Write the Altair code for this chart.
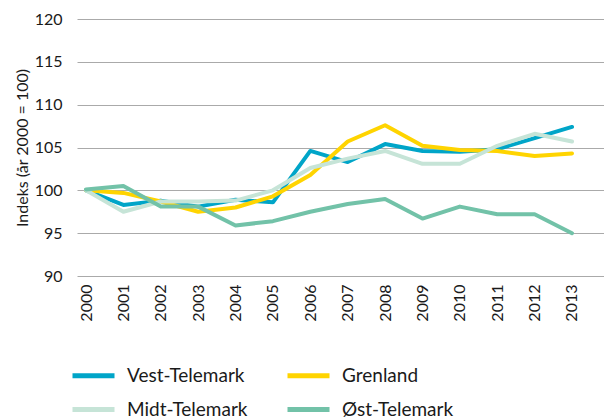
import altair as alt
import pandas as pd

years = list(range(2000, 2014))
regions = ["Vest-Telemark", "Grenland", "Midt-Telemark", "Øst-Telemark"]
colors = ["#00a5c8", "#ffd400", "#c6e4d7", "#72c2a8"]

vest = [100.0, 98.3, 98.8, 98.1, 98.9, 98.6, 104.6, 103.3, 105.4, 104.6, 104.5, 104.8, 106.1, 107.4]
grenland = [100.0, 99.7, 98.7, 97.5, 98.0, 99.3, 101.8, 105.7, 107.6, 105.2, 104.7, 104.6, 104.0, 104.3]
midt = [100.0, 97.5, 98.7, 98.7, 98.8, 100.0, 102.6, 103.7, 104.6, 103.1, 103.1, 105.2, 106.6, 105.7]
ost = [100.1, 100.5, 98.1, 98.1, 95.9, 96.4, 97.5, 98.4, 99.0, 96.7, 98.1, 97.2, 97.2, 95.0]

series = [vest, grenland, midt, ost]
rows = []
for i, (name, vals) in enumerate(zip(regions, series)):
    for y, v in zip(years, vals):
        rows.append({"År": y, "Indeks": v, "Region": name, "order": i})
df = pd.DataFrame(rows)

FONT = "Lato"

chart = alt.Chart(df).mark_line(strokeWidth=4, strokeCap="round", strokeJoin="round").encode(
    x=alt.X("År:Q",
            scale=alt.Scale(domain=[1999.759, 2013.856], nice=False, zero=False),
            axis=alt.Axis(values=years, format="d", labelAngle=-90, grid=False, domain=False,
                          ticks=False, title=None, labelPadding=8, labelFontSize=16,
                          labelColor="#1a1a1a", labelFont=FONT)),
    y=alt.Y("Indeks:Q",
            scale=alt.Scale(domain=[90, 120], nice=False, zero=False),
            axis=alt.Axis(values=[90, 95, 100, 105, 110, 115, 120], grid=True, domain=False,
                          ticks=False, title="Indeks (år 2000 = 100)", labelPadding=15,
                          labelFontSize=16, labelColor="#1a1a1a", labelFont=FONT,
                          titleFont=FONT, titleFontSize=16, titleFontWeight="normal",
                          titleColor="#1a1a1a", titlePadding=4,
                          gridColor="#aaaaaa", gridWidth=1)),
    color=alt.Color("Region:N",
                    scale=alt.Scale(domain=regions, range=colors),
                    legend=alt.Legend(title=None, orient="none", legendX=-7, legendY=333,
                                      direction="horizontal", columns=2,
                                      symbolType="stroke", symbolSize=1764,
                                      symbolStrokeWidth=5, labelFontSize=19,
                                      labelFont=FONT, labelColor="#1a1a1a",
                                      labelOffset=10, columnPadding=29, rowPadding=-5,
                                      labelLimit=300)),
    order=alt.Order("order:Q"),
    detail="Region:N",
).properties(
    width=527,
    height=257,
    autosize=alt.AutoSizeParams(type="none"),
    padding={"left": 69, "top": 11, "right": 0, "bottom": 141},
).configure_view(stroke=None)

chart.save("out.html", embed_options={"renderer": "svg", "actions": False})
